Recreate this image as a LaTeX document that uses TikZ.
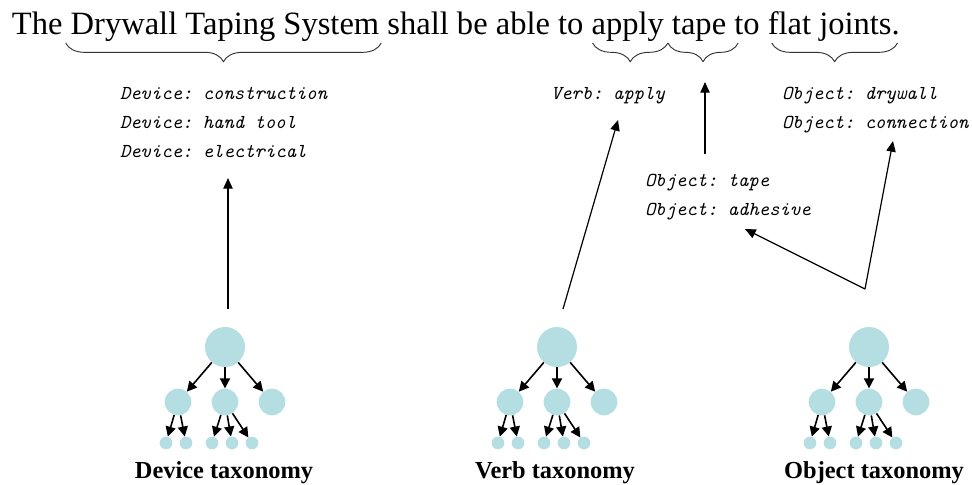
\documentclass[tikz,border=0pt]{standalone}
\usepackage{fontspec}
\setmainfont{Liberation Serif}
\usetikzlibrary{arrows.meta,decorations.pathreplacing,calc}
\definecolor{nodeblue}{RGB}{180,222,226}
\newcommand\wsp{\hbox to 0.25em{}}
\newcommand\taxtree[2]{%
  \node[rootc] (#1r) at (#2,347) {};
  \node[midc] (#1a) at ({#2-47},402) {};
  \node[midc] (#1b) at (#2,402) {};
  \node[midc] (#1c) at ({#2+47},402) {};
  \node[leafc] (#1a1) at ({#2-59},443) {};
  \node[leafc] (#1a2) at ({#2-39},443) {};
  \node[leafc] (#1b1) at ({#2-13},443) {};
  \node[leafc] (#1b2) at ({#2+7},443) {};
  \node[leafc] (#1b3) at ({#2+27},443) {};
  \draw[tarrow] (#1r) -- (#1a);
  \draw[tarrow] (#1r) -- (#1b);
  \draw[tarrow] (#1r) -- (#1c);
  \draw[tarrow] (#1a) -- (#1a1);
  \draw[tarrow] (#1a) -- (#1a2);
  \draw[tarrow] (#1b) -- (#1b1);
  \draw[tarrow] (#1b) -- (#1b2);
  \draw[tarrow] (#1b) -- (#1b3);
}
\begin{document}
\begin{tikzpicture}[x=0.75pt,y=-0.75pt,
  word/.style={inner sep=0pt, outer sep=0pt, anchor=base west, font=\fontsize{24.4}{29}\selectfont},
  lab/.style={inner sep=0pt, outer sep=0pt, anchor=base west, font=\ttfamily\itshape\frenchspacing\fontsize{14.8}{18}\selectfont},
  tax/.style={inner sep=0pt, anchor=base, font=\bfseries\fontsize{18.3}{22}\selectfont},
  bracestyle/.style={draw=black!80, line width=0.7pt, decorate, decoration={brace, mirror, amplitude=14pt}},
  link/.style={draw=black, line width=0.9pt, -{Triangle[length=8pt,width=7pt]}},
  tarrow/.style={draw=black, line width=1.2pt, -{Triangle[length=7.5pt,width=7.5pt]}},
  rootc/.style={circle, fill=nodeblue, draw=none, minimum size=30pt, inner sep=0pt},
  midc/.style={circle, fill=nodeblue, draw=none, minimum size=20pt, inner sep=0pt},
  leafc/.style={circle, fill=nodeblue, draw=none, minimum size=9.5pt, inner sep=0pt}]
\useasboundingbox (0,0) rectangle (972,485);
\fill[white] (0,0) rectangle (972,485);

% sentence
\node[word] (w1) at (12,35) {The\wsp};
\node[word] (dts) at (w1.base east) {Drywall Taping System};
\node[word] (w3) at (dts.base east) {\wsp shall be able to\wsp};
\node[word] (ap) at (w3.base east) {apply};
\node[word] (w4) at (ap.base east) {\wsp};
\node[word] (tp) at (w4.base east) {tape};
\node[word] (w5) at (tp.base east) {\wsp to\wsp};
\node[word] (fj) at (w5.base east) {flat joints};
\node[word] (w6) at (fj.base east) {.};

% braces
\draw[bracestyle] ($(dts.base west)+(-5,8)$) -- ($(dts.base east)+(2,8)$);
\draw[bracestyle] ($(ap.base west)+(1,8)$) -- ($(w4.base)+(0,8)$);
\draw[bracestyle] ($(w4.base)+(0,8)$) -- ($(tp.base east)+(12,8)$);
\draw[bracestyle] ($(fj.base west)+(4,8)$) -- ($(fj.base east)+(6,8)$);

% labels
\node[lab] (dev1) at (120,99) {Device: construction};
\node[lab] (dev2) at (120,128) {Device: hand tool};
\node[lab] (dev3) at (120,157) {Device: electrical};
\node[lab] (verb) at (551,100) {Verb: apply};
\node[lab] (objdw) at (782,100) {Object: drywall};
\node[lab] (objcn) at (782,128) {Object: connection};
\node[lab] (objtp) at (645,186) {Object: tape};
\node[lab] (objad) at (645,215) {Object: adhesive};

% trees
\taxtree{d}{225}
\taxtree{v}{557}
\taxtree{o}{869}

\node[tax] (dtax) at (224,478) {Device taxonomy};
\node[tax] (vtax) at (555,478) {Verb taxonomy};
\node[tax] (otax) at (874,478) {Object taxonomy};

% connectors
\coordinate (devTail) at (228,309);
\coordinate (devTip) at (228,178);
\coordinate (verbTail) at (563,309);
\coordinate (verbTip) at (618,120);
\coordinate (tapeTail) at (705,154);
\coordinate (tapeTip) at (705,82);
\coordinate (objTail) at (865,289);
\coordinate (conTip) at (893,141);
\coordinate (adhTip) at (745,229);
\draw[link] (devTail) -- (devTip);
\draw[link] (verbTail) -- (verbTip);
\draw[link] (tapeTail) -- (tapeTip);
\draw[link] (objTail) -- (conTip);
\draw[link] (objTail) -- (adhTip);
\end{tikzpicture}
\end{document}
